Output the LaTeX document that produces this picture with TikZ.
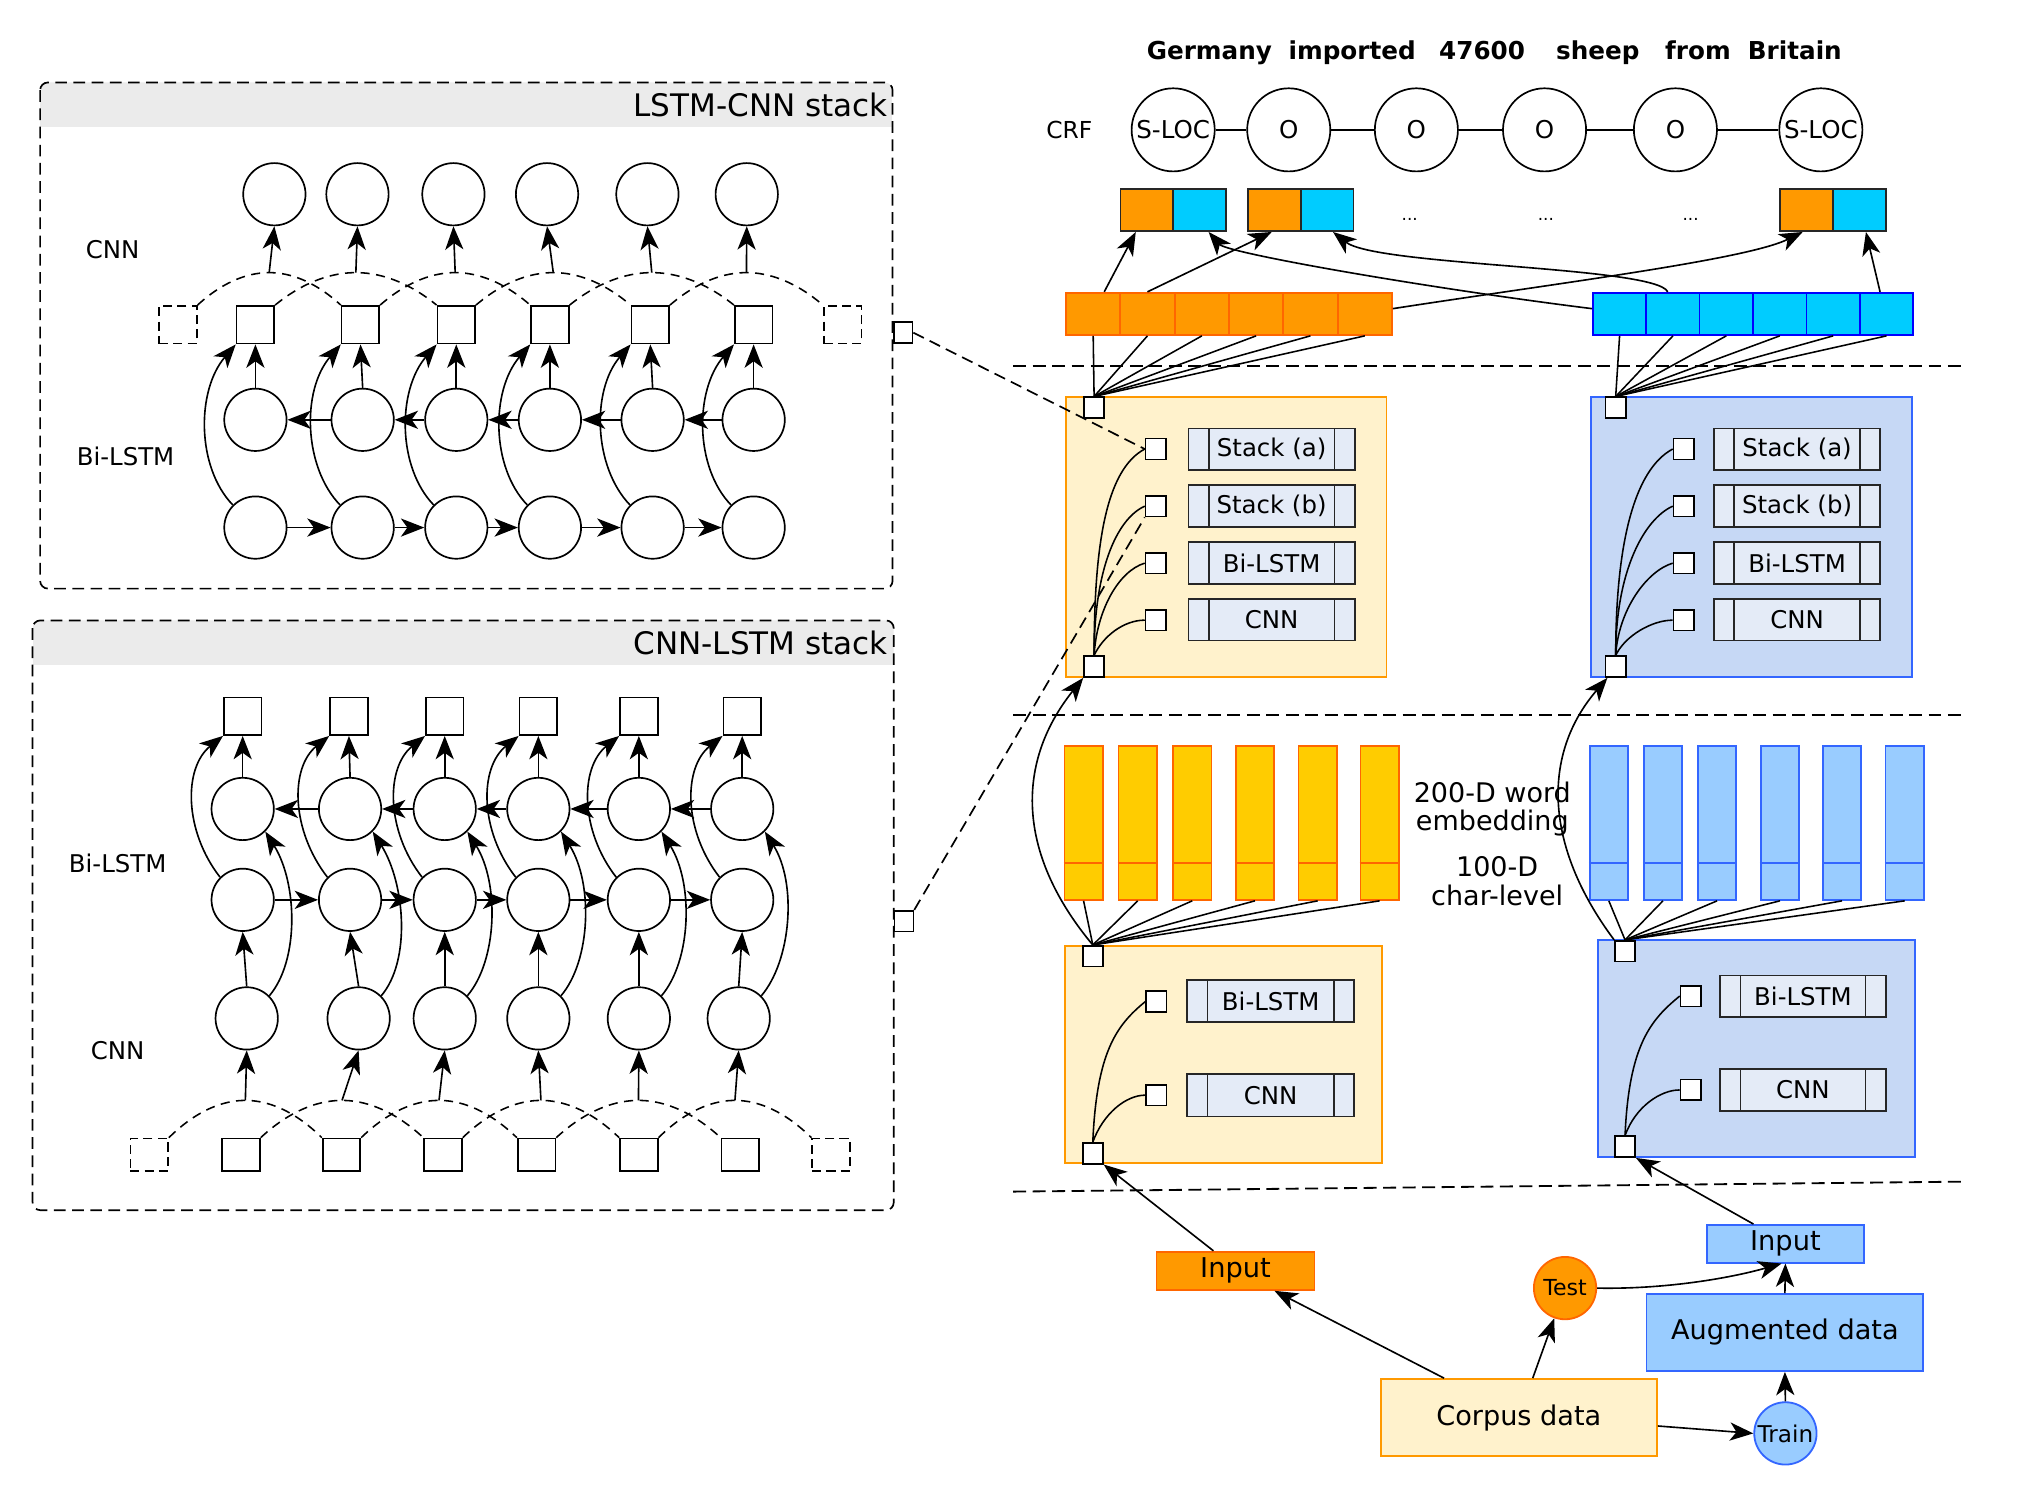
\documentclass[tikz,border=0pt]{standalone}
\usepackage{fontspec}
\setmainfont{DejaVu Sans}
\usetikzlibrary{arrows.meta,calc}

% colour palette
\definecolor{orfill}{HTML}{FF9900}
\definecolor{orline}{HTML}{FF6600}
\definecolor{yelfill}{HTML}{FFCC00}
\definecolor{cream}{HTML}{FFF2CC}
\definecolor{cyfill}{HTML}{00CCFF}
\definecolor{cyline}{HTML}{0000FF}
\definecolor{skyfill}{HTML}{99CCFF}
\definecolor{skyline}{HTML}{3366FF}
\definecolor{panelblue}{HTML}{C6D8F5}
\definecolor{modfill}{HTML}{E4EBF7}
\definecolor{headgray}{HTML}{EBEBEB}

\newcommand{\setfs}[1]{\fontsize{#1}{#1}\selectfont}

\begin{document}
\begin{tikzpicture}[x=1pt,y=-1pt,
  lw/.style={line width=1.3pt},
  ln/.style={line width=1.2pt},
  arr/.style={line width=1.25pt, -{Stealth[length=18pt,width=14pt,inset=5pt]}},
  sepline/.style={line width=1.4pt, dash pattern=on 10pt off 5pt},
  pdash/.style={line width=1.3pt, dash pattern=on 9pt off 5pt},
  adash/.style={line width=1.2pt, dash pattern=on 7pt off 5pt},
  cir/.style={circle, draw, fill=white, minimum size=48pt, inner sep=0pt, line width=1.3pt},
  sq/.style={rectangle, draw, fill=white, minimum width=29pt, minimum height=29pt, inner sep=0pt, line width=1.3pt},
  sqd/.style={sq, dash pattern=on 7pt off 4pt},
  insq/.style={sq, minimum height=25pt},
  insqd/.style={insq, dash pattern=on 7pt off 4pt},
  port/.style={rectangle, draw, fill=white, minimum width=15.5pt, minimum height=16pt, inner sep=0pt, line width=1.3pt},
  modbox/.style={rectangle, draw=black!85, fill=modfill, minimum width=128pt, minimum height=32pt,
    inner sep=0pt, line width=1.4pt, font=\setfs{18.8},
    path picture={\draw[black!85, line width=1.4pt]
      ([xshift=15.5pt]path picture bounding box.north west) -- ([xshift=15.5pt]path picture bounding box.south west)
      ([xshift=-15.5pt]path picture bounding box.north east) -- ([xshift=-15.5pt]path picture bounding box.south east);}},
  ocell/.style={rectangle, draw=orline, fill=orfill, minimum width=41.8pt, minimum height=32.6pt, inner sep=0pt, line width=1.3pt},
  ccell/.style={rectangle, draw=cyline, fill=cyfill, minimum width=41.1pt, minimum height=32.6pt, inner sep=0pt, line width=1.3pt},
  vec/.style={rectangle, draw=black!85, minimum width=40.6pt, minimum height=32.3pt, inner sep=0pt, line width=1.4pt},
  obar/.style={rectangle, draw=orline, fill=yelfill, minimum width=29.5pt, minimum height=118.8pt, inner sep=0pt, line width=1.3pt},
  bbar/.style={rectangle, draw=skyline, fill=skyfill, minimum width=29.5pt, minimum height=118.8pt, inner sep=0pt, line width=1.3pt},
  crf/.style={circle, draw, fill=white, minimum size=64pt, inner sep=0pt, line width=1.3pt, font=\setfs{18.9}},
  lab/.style={font=\setfs{18.8}, inner sep=0pt},
  obox/.style={rectangle, draw=orline, fill=orfill, inner sep=0pt, line width=1.4pt},
  bbox/.style={rectangle, draw=skyline, fill=skyfill, inner sep=0pt, line width=1.4pt}
]
\useasboundingbox (0,0) rectangle (1568,1154);
\fill[white] (0,0) rectangle (1568,1154);

% ---------------- LSTM-CNN stack container ----------------
\begin{scope}
  \clip[rounded corners=6pt] (30.9,63.5) rectangle (687.4,453.3);
  \fill[headgray] (30.9,63.5) rectangle (687.4,97.9);
\end{scope}
\draw[pdash, rounded corners=6pt] (30.9,63.5) rectangle (687.4,453.3);
\node[anchor=east, inner sep=0pt, font=\setfs{23.9}] (lcTitle) at (683.9,80.7) {LSTM-CNN stack};
\node[lab] (lcCNN) at (86.8,192.1) {CNN};
\node[lab] (lcBi) at (96.7,351.2) {Bi-LSTM};

\foreach \i/\x in {1/211.3,2/275.3,3/349.2,4/421.3,5/498.6,6/575.1}
  \node[cir] (O\i) at (\x,149.6) {};
\foreach \i/\x in {1/196.7,2/277.6,3/351.4,4/423.5,5/500.8,6/580.4}
  \node[sq] (S\i) at (\x,250.1) {};
\node[sqd] (S0) at (137,250.1) {};
\node[sqd] (S7) at (648.9,250.1) {};
\foreach \i/\x in {1/196.7,2/279.3,3/351.4,4/423.5,5/502.6,6/580.4} {
  \node[cir] (B\i) at (\x,323.3) {};
  \node[cir] (F\i) at (\x,406.3) {};
}
\node[port, minimum width=14.5pt] (lcPort) at (695.5,256.2) {};

% convolution windows over the LSTM outputs
\foreach \i in {1,...,6} {
  \pgfmathtruncatemacro\prv{\i-1}
  \pgfmathtruncatemacro\nxt{\i+1}
  \coordinate (A\i) at ($(S\prv.north east)!.5!(S\nxt.north west)+(0,-25)$);
  \draw[adash] (S\prv.north east) parabola bend (A\i) (S\nxt.north west);
  \draw[arr] (A\i) -- (O\i.south);
  \draw[arr] (B\i.north) -- (S\i.south);
  \draw[arr] (F\i.135) .. controls ($(F\i.135)+(-28,-29)$) and ($(S\i.south west)+(-30.5,35.5)$) .. (S\i.south west);
}
\foreach \i [count=\n from 2] in {1,...,5} {
  \draw[arr] (F\i.east) -- (F\n.west);
  \draw[arr] (B\n.west) -- (B\i.east);
}

% ---------------- CNN-LSTM stack container ----------------
\begin{scope}
  \clip[rounded corners=6pt] (25.1,477.8) rectangle (688.3,932);
  \fill[headgray] (25.1,477.8) rectangle (688.3,512.4);
\end{scope}
\draw[pdash, rounded corners=6pt] (25.1,477.8) rectangle (688.3,932);
\node[anchor=east, inner sep=0pt, font=\setfs{23.9}] (clTitle) at (683.9,495.1) {CNN-LSTM stack};
\node[lab] (clBi) at (90.6,664.8) {Bi-LSTM};
\node[lab] (clCNN) at (90.6,809.4) {CNN};

\foreach \i/\x in {1/186.9,2/268.7,3/342.5,4/414.6,5/492,6/571.6}
  \node[sq] (T\i) at (\x,551.6) {};
\foreach \i/\x in {1/186.9,2/269.6,3/342.5,4/414.6,5/492,6/571.6} {
  \node[cir] (Bk\i) at (\x,623) {};
  \node[cir] (Fw\i) at (\x,693) {};
}
\foreach \i/\x in {1/190,2/276.2,3/342.5,4/414.6,5/492,6/568.9}
  \node[cir] (C\i) at (\x,784.3) {};
\foreach \i/\x in {1/185.6,2/263,3/341.2,4/413.2,5/492,6/570.2}
  \node[insq] (I\i) at (\x,889.3) {};
\node[insqd] (I0) at (114.9,889.3) {};
\node[insqd] (I7) at (640,889.3) {};
\node[port, minimum width=14.5pt] (clPort) at (696.2,709.4) {};

\foreach \i in {1,...,6} {
  \pgfmathtruncatemacro\prv{\i-1}
  \pgfmathtruncatemacro\nxt{\i+1}
  \coordinate (W\i) at ($(I\prv.north east)!.5!(I\nxt.north west)+(0,-28.7)$);
  \draw[adash] (I\prv.north east) parabola bend (W\i) (I\nxt.north west);
  \draw[arr] (W\i) -- (C\i.south);
  \draw[arr] (C\i.north) -- (Fw\i.south);
  \draw[arr] (Bk\i.north) -- (T\i.south);
  \draw[arr] (C\i.45) .. controls ($(C\i.45)+(23,-27)$) and ($(Bk\i.-45)+(25,40)$) .. (Bk\i.-45);
  \draw[arr] (Fw\i.135) .. controls ($(Fw\i.135)+(-28,-36)$) and ($(T\i.south west)+(-30.5,24.4)$) .. (T\i.south west);
}
\foreach \i [count=\n from 2] in {1,...,5} {
  \draw[arr] (Fw\i.east) -- (Fw\n.west);
  \draw[arr] (Bk\n.west) -- (Bk\i.east);
}

% ---------------- separators ----------------
\draw[sepline] (780.2,281.9) -- (1513.3,281.9);
\draw[sepline] (780.2,550.6) -- (1513.3,550.6);
\draw[sepline] (780.2,917.7) -- (1513.3,910);

% ---------------- model panels ----------------
\draw[orfill, fill=cream, line width=1.5pt] (821,306) rectangle (1067.8,521.6);
\draw[skyline, fill=panelblue, line width=1.5pt] (1225.6,306) rectangle (1472.5,521.6);
\draw[orfill, fill=cream, line width=1.5pt] (820,728.3) rectangle (1064.3,895.4);
\draw[skyline, fill=panelblue, line width=1.5pt] (1230.7,723.9) rectangle (1475.1,891.3);

% sentence and CRF layer
\node[anchor=base west, inner sep=0pt, font=\setfs{19}\bfseries] (sent) at (883,46.2)
  {Germany\hspace{12.8pt}imported\hspace{18.1pt}47600\hspace{24pt}sheep\hspace{19.7pt}from\hspace{13.2pt}Britain};
\node[lab, font=\setfs{18}] (crflab) at (823.5,100) {CRF};
\node[crf] (crf1) at (903.5,100) {S-LOC};
\node[crf] (crf2) at (992.5,100) {O};
\node[crf] (crf3) at (1090.8,100) {O};
\node[crf] (crf4) at (1189.5,100) {O};
\node[crf] (crf5) at (1290.3,100) {O};
\node[crf] (crf6) at (1402.3,100) {S-LOC};
\foreach \i [count=\n from 2] in {1,...,5}
  \draw[lw] (crf\i) -- (crf\n);

% concatenated vectors
\node[vec, fill=orfill] (c1o) at (883.2,161.8) {};
\node[vec, fill=cyfill] (c1c) at (923.8,161.8) {};
\node[vec, fill=orfill] (c2o) at (981.4,161.8) {};
\node[vec, fill=cyfill] (c2c) at (1022.1,161.8) {};
\node[vec, fill=orfill] (c3o) at (1391.3,161.8) {};
\node[vec, fill=cyfill] (c3c) at (1432,161.8) {};
\node[anchor=base, inner sep=0pt, font=\setfs{13}] (dots1) at (1085.7,169.5) {...};
\node[anchor=base, inner sep=0pt, font=\setfs{13}] (dots2) at (1190.5,169.5) {...};
\node[anchor=base, inner sep=0pt, font=\setfs{13}] (dots3) at (1302,169.5) {...};

% sequence outputs
\foreach \i/\x in {1/841.9,2/883.7,3/925.6,4/967.4,5/1009.2,6/1051.1}
  \node[ocell] (o\i) at (\x,241.7) {};
\foreach \i/\x in {1/1247.3,2/1288.4,3/1329.5,4/1370.7,5/1411.8,6/1452.9}
  \node[ccell] (cy\i) at (\x,241.7) {};

% upper panels: stacked modules
\node[port] (uoT) at (842.6,314) {};
\node[port] (uoB) at (842.6,513.4) {};
\node[port] (uoPa) at (890,345.8) {};
\node[port] (uoPb) at (890,389.8) {};
\node[port] (uoPl) at (890,433.7) {};
\node[port] (uoPc) at (890,477.6) {};
\node[modbox] (uoMa) at (979.3,346) {Stack (a)};
\node[modbox] (uoMb) at (979.3,389.6) {Stack (b)};
\node[modbox] (uoMl) at (979.3,433.7) {Bi-LSTM};
\node[modbox] (uoMc) at (979.3,477.3) {CNN};

\node[port] (ubT) at (1244.3,314) {};
\node[port] (ubB) at (1244.3,513.4) {};
\node[port] (ubPa) at (1296.6,345.8) {};
\node[port] (ubPb) at (1296.6,389.8) {};
\node[port] (ubPl) at (1296.6,433.7) {};
\node[port] (ubPc) at (1296.6,477.6) {};
\node[modbox] (ubMa) at (1384,346) {Stack (a)};
\node[modbox] (ubMb) at (1384,389.6) {Stack (b)};
\node[modbox] (ubMl) at (1384,433.7) {Bi-LSTM};
\node[modbox] (ubMc) at (1384,477.3) {CNN};

% embeddings
\foreach \i/\x in {1/834.5,2/876.2,3/918.2,4/966.5,5/1014.8,6/1062.5} {
  \node[obar] (ob\i) at (\x,633.7) {};
  \draw[orline, lw] ([yshift=29pt]ob\i.south west) -- ([yshift=29pt]ob\i.south east);
}
\foreach \i/\x in {1/1239,2/1280.7,3/1322.4,4/1370.8,5/1418.6,6/1466.9} {
  \node[bbar] (bb\i) at (\x,633.7) {};
  \draw[skyline, lw] ([yshift=29pt]bb\i.south west) -- ([yshift=29pt]bb\i.south east);
}
\node[align=center, inner sep=0pt, font=\fontsize{20.8}{21.8}\selectfont] (embw) at (1149.3,622.9) {200-D word\\embedding};
\node[align=center, inner sep=0pt, font=\fontsize{20.8}{22.6}\selectfont] (embc) at (1153,678.8) {100-D\\char-level};

% lower panels: character-level modules
\node[port] (loT) at (841.6,736.4) {};
\node[port] (loB) at (841.6,888.2) {};
\node[port] (loPl) at (890.5,771.3) {};
\node[port] (loPc) at (890.5,843.4) {};
\node[modbox, minimum width=128.3pt, minimum height=32.6pt] (loMl) at (978.6,771) {Bi-LSTM};
\node[modbox, minimum width=128.3pt, minimum height=32.6pt] (loMc) at (978.6,843.5) {CNN};

\node[port] (lbT) at (1251.5,732.5) {};
\node[port] (lbB) at (1251.5,883.1) {};
\node[port] (lbPl) at (1302,767.1) {};
\node[port] (lbPc) at (1302,839.4) {};
\node[modbox, minimum width=127.3pt] (lbMl) at (1388.5,767.2) {Bi-LSTM};
\node[modbox, minimum width=127.3pt] (lbMc) at (1388.5,839.3) {CNN};

% data flow
\node[obox, minimum width=121.7pt, minimum height=29.4pt, font=\setfs{21}] (oInput) at (951.5,978.7) {Input};
\node[circle, draw=orline, fill=orfill, minimum size=48pt, inner sep=0pt, line width=1.4pt, font=\setfs{17}] (Test) at (1205.3,992) {Test};
\node[bbox, minimum width=120.7pt, minimum height=29pt, font=\setfs{21}] (bInput) at (1375,957.9) {Input};
\node[bbox, minimum width=213.2pt, minimum height=59.3pt, font=\setfs{20.9}] (Aug) at (1374.6,1026.2) {Augmented data};
\node[rectangle, draw=orfill, fill=cream, minimum width=212.8pt, minimum height=59.3pt, inner sep=0pt, line width=1.4pt, font=\setfs{20.9}] (Corpus) at (1169.7,1091.7) {Corpus data};
\node[circle, draw=skyline, fill=skyfill, minimum size=48pt, inner sep=0pt, line width=1.4pt, font=\setfs{17.8}] (Train) at (1375,1103.9) {Train};

% ---------------- connectors ----------------
% fan-in to the sequence outputs
\foreach \i in {1,...,6} {
  \draw[ln] (uoT.north) -- (o\i.south);
  \draw[ln] (ubT.north) -- (cy\i.south);
  \draw[ln] (loT.north) -- (ob\i.south);
  \draw[ln] (lbT.north) -- (bb\i.south);
}
% sequence outputs to concatenated vectors
\draw[arr] ([xshift=8.5pt]o1.north) -- ([xshift=-8.5pt]c1o.south);
\draw[arr] (o2.north) -- ([xshift=-2pt]c2o.south);
\draw[arr] ([yshift=4pt]o6.east) .. controls (1200,218) and (1345,200) .. ([xshift=-3pt]c3o.south);
\draw[arr] ([yshift=4pt]cy1.west) .. controls (1100,222) and (945,195) .. ([xshift=7pt]c1c.south);
\draw[arr] ([xshift=-4pt]cy2.north) .. controls (1275,205) and (1060,205) .. ([xshift=4.5pt]c2c.south);
\draw[arr] ([xshift=-5pt]cy6.north) -- ([xshift=5pt]c3c.south);

% module selection inside the panels
\foreach \p/\ax/\ay/\bx/\by in {Pa/0/-85/-30/16, Pb/0/-65/-22/10, Pl/2/-35/-20/6, Pc/7/-15/-16/0} {
  \draw[ln] (uoB.north) .. controls ($(uoB.north)+(\ax,\ay)$) and ($(uo\p.west)+(\bx,\by)$) .. (uo\p.west);
  \draw[ln] (ubB.north) .. controls ($(ubB.north)+(\ax,\ay)$) and ($(ub\p.west)+(\bx,\by)$) .. (ub\p.west);
}
\foreach \p/\ax/\ay/\bx/\by in {Pl/3/-70/-22/18, Pc/8/-22/-15/0} {
  \draw[ln] (loB.north) .. controls ($(loB.north)+(\ax,\ay)$) and ($(lo\p.west)+(\bx,\by)$) .. (lo\p.west);
  \draw[ln] (lbB.north) .. controls ($(lbB.north)+(\ax,\ay)$) and ($(lb\p.west)+(\bx,\by)$) .. (lb\p.west);
}

% character level to word level
\draw[arr] (loT.north) .. controls (785,660) and (780,590) .. (uoB.south west);
\draw[arr] (lbT.north west) .. controls (1188,650) and (1188,580) .. ([xshift=2pt]ubB.south west);

% stack details
\draw[pdash] (lcPort.east) -- (uoPa.west);
\draw[pdash] (clPort.north east) -- (uoPb.south west);

% inputs
\draw[arr] ([xshift=-57.6pt]Corpus.north) -- ([xshift=30pt]oInput.south);
\draw[arr] ([xshift=10.7pt]Corpus.north) -- (Test);
\draw[arr] ([yshift=-6.5pt]Corpus.east) -- (Train.west);
\draw[arr] (Train.north) -- (Aug.south);
\draw[arr] (Aug.north) -- (bInput.south);
\draw[arr] (Test.east) .. controls (1280,993) and (1330,985) .. ([xshift=-3pt]bInput.south);
\draw[arr] ([xshift=-17pt]oInput.north) -- (loB.south east);
\draw[arr] ([xshift=-24.6pt]bInput.north) -- (lbB.south east);

\end{tikzpicture}
\end{document}
